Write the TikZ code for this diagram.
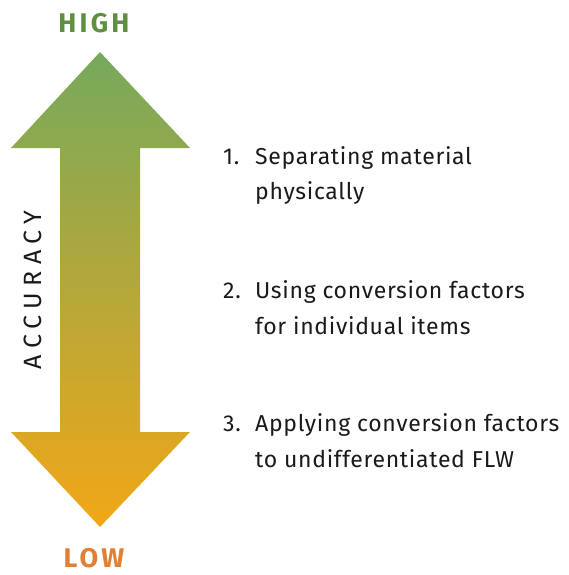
\documentclass[tikz,border=0pt]{standalone}
\usepackage{fontspec}
\setmainfont{Fira Sans}[LetterSpace=3]
\newfontfamily\spacedbold[LetterSpace=12]{Fira Sans Bold}
\newfontfamily\spacedlight[LetterSpace=25]{Fira Sans}
\definecolor{arrowtop}{HTML}{76A95C}
\definecolor{arrowbot}{HTML}{F2A717}
\definecolor{highcol}{HTML}{5F8F40}
\definecolor{lowcol}{HTML}{E08034}
\definecolor{txt}{HTML}{1A1A1A}
\begin{document}
\begin{tikzpicture}[x=1pt,y=-1pt,
  itemtext/.style={anchor=base west,inner sep=0pt,text=txt,font=\fontsize{23}{26}\selectfont},
  numtext/.style={anchor=base west,inner sep=0pt,text=txt,font=\fontsize{23}{26}\selectfont},
  endlabel/.style={anchor=base,inner sep=0pt,font=\fontsize{27}{30}\spacedbold}]
\useasboundingbox (0,0) rectangle (568,575);
\shade[top color=arrowtop,bottom color=arrowbot]
  (100,52) -- (190,148) -- (140,148) -- (140,432) -- (190,432) -- (100,527)
  -- (11,432) -- (60,432) -- (60,148) -- (11,148) -- cycle;
\node[endlabel,text=highcol] (high) at (94,33) {HIGH};
\node[endlabel,text=lowcol] (low) at (94,567) {LOW};
\node[inner sep=0pt,rotate=90,text=txt,font=\fontsize{25}{28}\spacedlight] (acc) at (33,290) {ACCURACY};
\node[numtext] (n1) at (223,164) {1.};
\node[itemtext] (t1a) at (255,164) {Separating material};
\node[itemtext] (t1b) at (255,199) {physically};
\node[numtext] (n2) at (223,298) {2.};
\node[itemtext] (t2a) at (255,298) {Using conversion factors};
\node[itemtext] (t2b) at (255,334) {for individual items};
\node[numtext] (n3) at (223,431) {3.};
\node[itemtext] (t3a) at (255,431) {Applying conversion factors};
\node[itemtext] (t3b) at (255,467) {to undifferentiated FLW};
\end{tikzpicture}
\end{document}
